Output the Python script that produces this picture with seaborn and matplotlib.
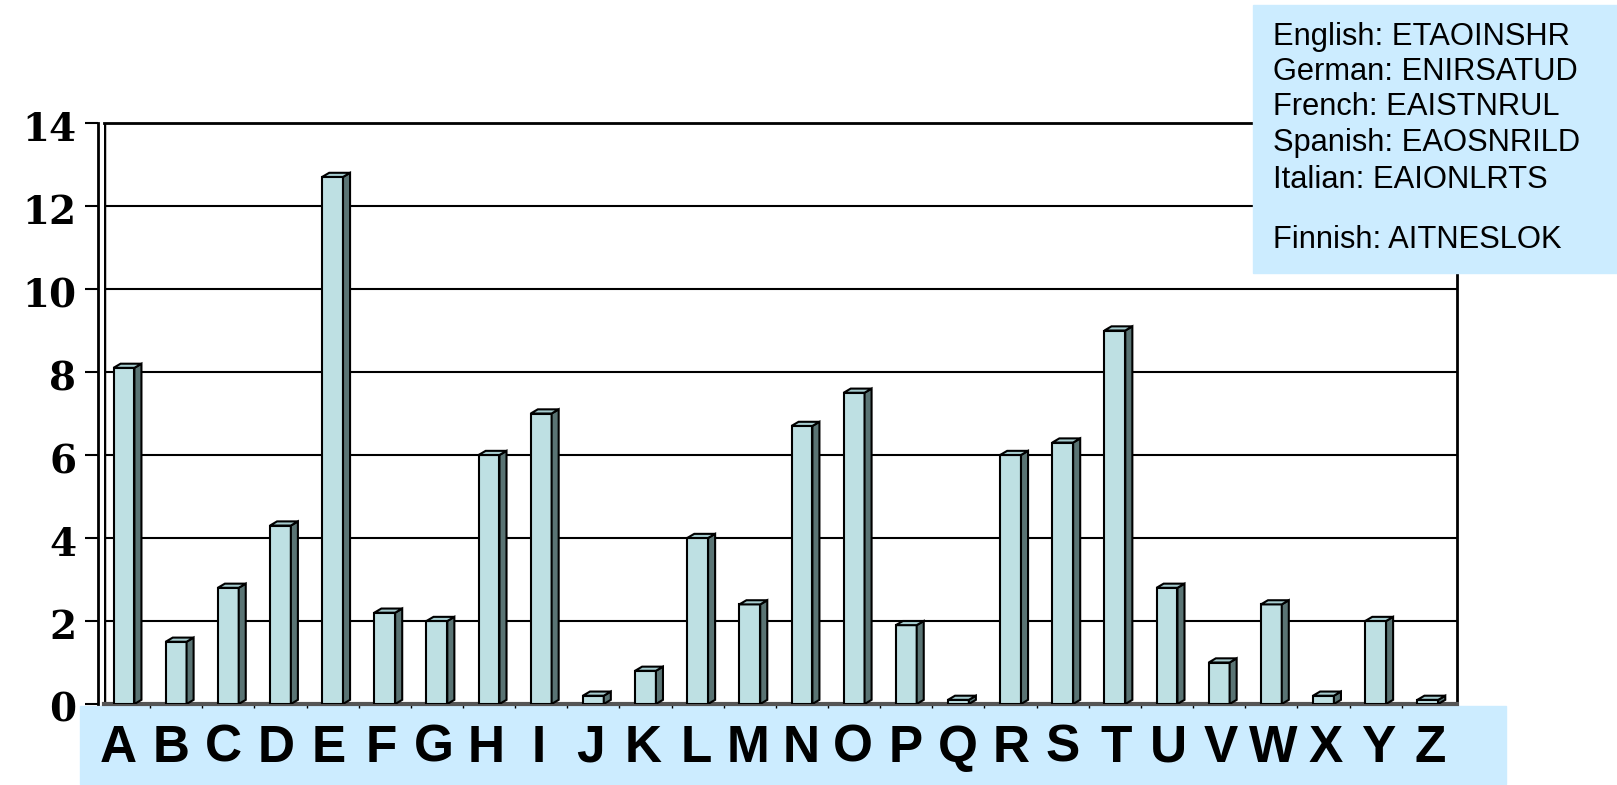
import seaborn as sns
import matplotlib.pyplot as plt
import matplotlib.transforms as mtransforms
from matplotlib.patches import Polygon, Rectangle
import pandas as pd
import numpy as np

# ----------------------------
# Data: English letter frequencies (%)
# ----------------------------
letters = list("ABCDEFGHIJKLMNOPQRSTUVWXYZ")
freqs = [8.1, 1.5, 2.8, 4.3, 12.7, 2.2, 2.0, 6.0, 7.0, 0.2, 0.8, 4.0, 2.4,
         6.7, 7.5, 1.9, 0.1, 6.0, 6.3, 9.0, 2.8, 1.0, 2.4, 0.2, 2.0, 0.1]
legend_lines = ["English: ETAOINSHR", "German: ENIRSATUD", "French: EAISTNRUL",
                "Spanish: EAOSNRILD", "Italian: EAIONLRTS", "Finnish: AITNESLOK"]

df = pd.DataFrame({"Letter": letters, "Freq": freqs})

face_col = "#BEE0E3"
side_col = "#5A7474"
top_col = "#A6CDD0"
band_col = "#CCECFF"

# ----------------------------
# Figure
# ----------------------------
sns.set_style("white")
plt.rcParams["text.color"] = "black"
plt.rcParams["ytick.color"] = "black"
fig = plt.figure(figsize=(16.17, 7.85), dpi=100)
ax = fig.add_axes([104 / 1617, 81 / 785, (1457 - 104) / 1617, (704 - 123) / 785])

# blue band behind the x labels, legend box on top of the plot frame
fig.patches.append(Rectangle((80 / 1617, 1 / 785), (1506 - 80) / 1617, 78 / 785,
                             transform=fig.transFigure, color=band_col, zorder=-1))
fig.patches.append(Rectangle((1253 / 1617, (785 - 273) / 785), (1617 - 1253) / 1617,
                             268 / 785, transform=fig.transFigure, color=band_col, zorder=1))

sns.barplot(data=df, x="Letter", y="Freq", color=face_col, width=0.4,
            edgecolor="black", linewidth=1.5, saturation=1, ax=ax, zorder=3)

ax.set_xlim(-0.383, 25.56)
ax.set_ylim(0, 14)

# 3D look: side and top faces built from each bar
dx, dy = 0.135, 0.1
for p in list(ax.patches):
    x0, w, h = p.get_x(), p.get_width(), p.get_height()
    x1 = x0 + w
    side = Polygon([(x1, 0), (x1 + dx, dy), (x1 + dx, h + dy), (x1, h)],
                   closed=True, facecolor=side_col, edgecolor="black", lw=1.5, zorder=3)
    top = Polygon([(x0, h), (x0 + dx, h + dy), (x1 + dx, h + dy), (x1, h)],
                  closed=True, facecolor=top_col, edgecolor="black", lw=1.5, zorder=3)
    ax.add_patch(side)
    ax.add_patch(top)

# gridlines and frame
ax.set_yticks(range(0, 15, 2))
ax.yaxis.grid(True, color="black", lw=1.5)
ax.set_axisbelow(True)
for s in ["top", "right"]:
    ax.spines[s].set_color("black")
    ax.spines[s].set_linewidth(2)
ax.spines["left"].set_position(("outward", 4.5))
ax.spines["left"].set_linewidth(2)
ax.spines["left"].set_color("black")
ax.axvline(-0.383, color="black", lw=2.5, zorder=2)
ax.spines["bottom"].set_color("#555555")
ax.spines["bottom"].set_linewidth(3)

ax.tick_params(axis="y", length=9.5, width=1.5, color="black", pad=6, left=True)
shift = mtransforms.ScaledTranslation(0, -3 / 100, fig.dpi_scale_trans)
for t in ax.get_yticklabels():
    t.set_fontfamily("DejaVu Serif")
    t.set_fontweight("bold")
    t.set_fontsize(28)
    t.set_color("black")
    t.set_transform(t.get_transform() + shift)

ax.set_xticks(np.arange(25) + 0.5, minor=True)
ax.set_xticks([])
ax.tick_params(axis="x", which="minor", length=3, width=1, color="black", bottom=True)
ax.set_xlabel("")
ax.set_ylabel("")

# x labels on the band
trans = mtransforms.blended_transform_factory(ax.transData, fig.transFigure)
for i, lab in enumerate(letters):
    ax.text(i * 1.006 - 0.1, 0.047, lab, transform=trans, ha="center", va="center",
            fontsize=37, fontweight="bold", family="Liberation Sans",
            color="black", clip_on=False)

# legend text
ys = [37, 72, 107, 143, 180, 240]
for line, y in zip(legend_lines, ys):
    fig.text(1273 / 1617, 1 - y / 785, line, ha="left", va="center",
             fontsize=22.2, family="Liberation Sans", color="black", zorder=4)

plt.savefig("out.png", dpi=100)
plt.close()
